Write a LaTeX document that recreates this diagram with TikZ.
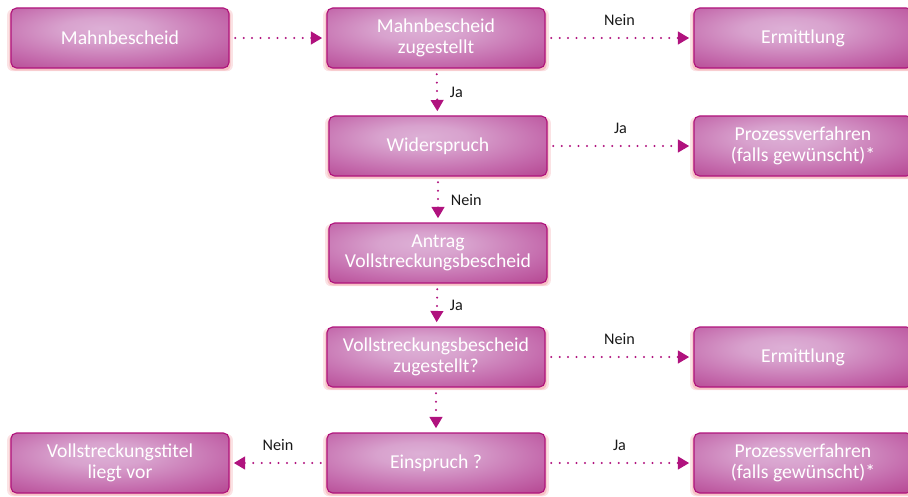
\documentclass[tikz,border=0pt]{standalone}
\usepackage{fontspec}
\setmainfont{Carlito}
\usepackage{xcolor}
\usepackage{tikz}
\usetikzlibrary{arrows.meta,shadows}

\definecolor{boxlight}{HTML}{DDB0D6}
\definecolor{boxmid}{HTML}{C46AAC}
\definecolor{boxdark}{HTML}{B03A88}
\definecolor{boxline}{HTML}{B0147C}
\definecolor{arrowcol}{HTML}{B0127E}
\definecolor{glowcol}{HTML}{F2A0A6}
\pgfdeclareradialshading{boxshade}{\pgfpoint{-4bp}{8bp}}{color(0bp)=(boxlight); color(10bp)=(boxlight!80!boxmid); color(28bp)=(boxmid); color(45bp)=(boxdark); color(100bp)=(boxdark)}

\begin{document}
\begin{tikzpicture}[x=0.025cm, y=-0.025cm,
    box/.style={draw=boxline, line width=0.8pt, rounded corners=4pt, shading=boxshade,
        minimum width=5.45cm, minimum height=1.5cm, align=center, text=white,
        font=\fontsize{14}{14.5}\selectfont,
        drop shadow={shadow xshift=0pt, shadow yshift=-1.5pt, shadow scale=1.035, fill=glowcol, opacity=0.3},
        drop shadow={shadow xshift=0pt, shadow yshift=-1.5pt, shadow scale=1.015, fill=glowcol, opacity=0.5}},
    flow/.style={draw=arrowcol, line width=1.6pt, dash pattern=on 0pt off 6pt, line cap=round,
        -{Triangle[length=8pt,width=9pt]}, shorten <=4pt, shorten >=3pt},
    lbl/.style={text=black!90, font=\fontsize{11.5}{12}\selectfont}]
    \useasboundingbox (0,0) rectangle (908,496);

    \node[box] (mb) at (120,38) {Mahnbescheid};
    \node[box] (mbz) at (436,38) {Mahnbescheid\\zugestellt};
    \node[box] (erm1) at (803,38) {Ermittlung};
    \node[box] (wid) at (438,146) {Widerspruch};
    \node[box] (pv1) at (803,146) {Prozessverfahren\\(falls gewünscht)*};
    \node[box] (antrag) at (438,253) {Antrag\\Vollstreckungsbescheid};
    \node[box] (vbz) at (436,357) {Vollstreckungsbescheid\\zugestellt?};
    \node[box] (erm2) at (803,357) {Ermittlung};
    \node[box] (einspr) at (436,463) {Einspruch ?};
    \node[box] (titel) at (120,463) {Vollstreckungstitel\\liegt vor};
    \node[box] (pv2) at (803,463) {Prozessverfahren\\(falls gewünscht)*};

    \draw[flow] (mb) -- (mbz);
    \draw[flow] (mbz) -- node[lbl, above=5pt] {Nein} (erm1);
    \draw[flow] (mbz) -- node[lbl, right=5pt] {Ja} (wid);
    \draw[flow] (wid) -- node[lbl, above=5pt] {Ja} (pv1);
    \draw[flow] (wid) -- node[lbl, right=5pt] {Nein} (antrag);
    \draw[flow] (antrag) -- node[lbl, right=5pt] {Ja} (vbz);
    \draw[flow] (vbz) -- node[lbl, above=5pt] {Nein} (erm2);
    \draw[flow] (vbz) -- (einspr);
    \draw[flow] (einspr) -- node[lbl, above=5pt] {Nein} (titel);
    \draw[flow] (einspr) -- node[lbl, above=5pt] {Ja} (pv2);
\end{tikzpicture}
\end{document}
